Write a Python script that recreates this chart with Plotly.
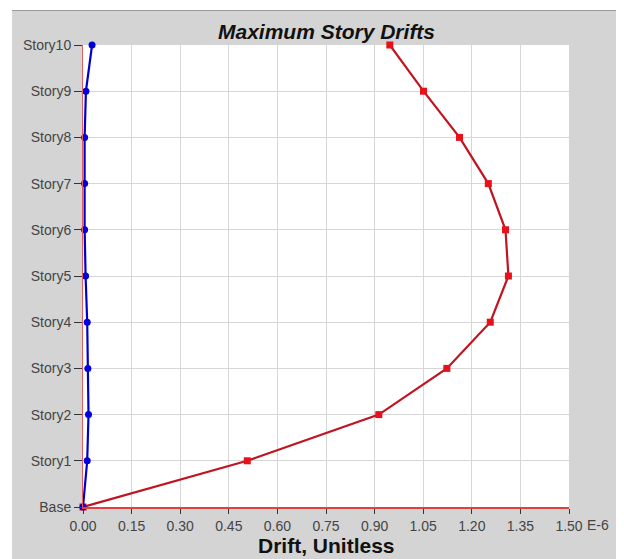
import plotly.graph_objects as go

stories = ["Base", "Story1", "Story2", "Story3", "Story4", "Story5",
           "Story6", "Story7", "Story8", "Story9", "Story10"]
drift_red = [0.0, 0.507, 0.913, 1.123, 1.257, 1.313, 1.304, 1.251, 1.162, 1.051, 0.947]
drift_blue = [0.0, 0.013, 0.017, 0.015, 0.013, 0.008, 0.005, 0.005, 0.005, 0.009, 0.028]
x_tick_vals = [0.0, 0.15, 0.30, 0.45, 0.60, 0.75, 0.90, 1.05, 1.20, 1.35, 1.50]
x_tick_text = ["0.00", "0.15", "0.30", "0.45", "0.60", "0.75", "0.90", "1.05", "1.20", "1.35", "1.50"]

OFF = 8  # page body margin in the browser
W, H = 624 - OFF, 559 - OFF
# plot area in page pixels
L, R, T, B = 83, 569, 45, 507
pw, ph = R - L, B - T

def px(xp):
    return (xp - L) / pw

def py(yp):
    return (B - yp) / ph

fig = go.Figure()
fig.add_trace(go.Scatter(
    x=drift_red, y=stories, mode="lines+markers",
    line=dict(color="#c01420", width=2.2),
    marker=dict(symbol="square", size=7, color="#e8101a"),
    showlegend=False, cliponaxis=False))
fig.add_trace(go.Scatter(
    x=drift_blue, y=stories, mode="lines+markers",
    line=dict(color="#0000cc", width=2.2),
    marker=dict(symbol="circle", size=7, color="#0000dd"),
    showlegend=False, cliponaxis=False))

tick_font = dict(family="Liberation Sans, Arial, sans-serif", size=14, color="#454545")

fig.update_layout(
    width=W, height=H,
    margin=dict(l=L - OFF, r=624 - R, t=T - OFF, b=559 - B, autoexpand=False),
    paper_bgcolor="#d4d4d4",
    plot_bgcolor="#ffffff",
    xaxis=dict(range=[0, 1.5], tickvals=x_tick_vals, ticktext=x_tick_text,
               showgrid=True, gridcolor="#d6d6d6", gridwidth=1,
               zeroline=False, showline=True, linecolor="#e04040", linewidth=1.5,
               ticks="outside", ticklen=5, tickcolor="#333333", tickwidth=1,
               tickfont=tick_font),
    yaxis=dict(type="category", categoryorder="array", categoryarray=stories,
               range=[0, 10], showgrid=True, gridcolor="#d6d6d6", gridwidth=1,
               zeroline=False, showline=True, linecolor="#e06060", linewidth=1,
               ticks="outside", ticklen=8, tickcolor="#333333", tickwidth=1,
               tickfont=tick_font),
    shapes=[
        dict(type="rect", xref="paper", yref="paper", x0=px(0), x1=px(630),
             y0=py(10), y1=py(0), fillcolor="#ffffff", line=dict(width=0), layer="below"),
        dict(type="rect", xref="paper", yref="paper", x0=px(0), x1=px(12),
             y0=py(565), y1=py(0), fillcolor="#ffffff", line=dict(width=0), layer="below"),
        dict(type="line", xref="paper", yref="paper", x0=px(12), x1=px(630),
             y0=py(10.5), y1=py(10.5), line=dict(color="#9a9a9a", width=1), layer="below"),
    ],
    annotations=[
        dict(text="<b><i>Maximum Story Drifts</i></b>", xref="paper", yref="paper",
             x=0.5, y=py(31), xanchor="center", yanchor="middle", showarrow=False,
             font=dict(family="Liberation Sans, Arial, sans-serif", size=21, color="#111111")),
        dict(text="<b>Drift, Unitless</b>", xref="paper", yref="paper",
             x=0.5, y=py(545), xanchor="center", yanchor="middle", showarrow=False,
             font=dict(family="Liberation Sans, Arial, sans-serif", size=21, color="#111111")),
        dict(text="E-6", xref="paper", yref="paper",
             x=px(585), y=py(525), xanchor="left", yanchor="middle", showarrow=False,
             font=tick_font),
    ],
)

fig.write_html("out.html")
